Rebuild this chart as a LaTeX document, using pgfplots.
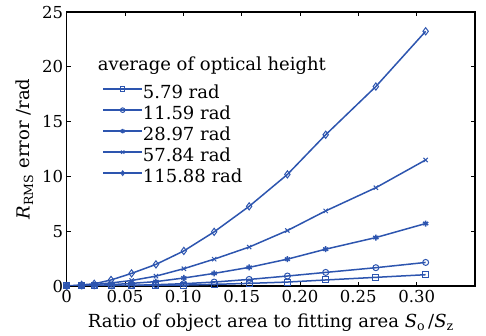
\documentclass[border=0pt]{standalone}
\usepackage{fontspec}
\setmainfont{DejaVu Serif}
\usepackage{pgfplots}
\pgfplotsset{compat=1.18}
\definecolor{lb}{RGB}{45,85,175}
\newcommand{\fs}{\fontsize{16.5}{20}\selectfont}
\newcommand{\fl}{\fontsize{18}{21}\selectfont}
\begin{document}
\begin{tikzpicture}[x=1pt,y=1pt]
\useasboundingbox (0,0) rectangle (486,336);
\begin{axis}[
  at={(66.7pt,50pt)}, anchor=south west,
  scale only axis, width=408.3pt, height=274pt,
  xmin=0, xmax=0.35, ymin=0, ymax=25,
  xtick={0,0.05,0.10,0.15,0.20,0.25,0.30},
  xticklabels={0,0.05,0.10,0.15,0.20,0.25,0.30},
  ytick={0,5,10,15,20,25},
  /pgf/number format/assume math mode=true,
  tick align=inside, major tick length=4pt,
  axis line style={line width=1.4pt},
  tick style={line width=1pt, black},
  ticklabel style={font=\fs},
  xticklabel style={yshift=-1pt},
  label style={font=\fl},
  xlabel={Ratio of object area to fitting area \textit{S}\textsubscript{o}\,/\textit{S}\textsubscript{z}},
  ylabel={\textit{R}\textsubscript{RMS} error /rad},
  xlabel style={yshift=-4pt},
  ylabel style={yshift=2pt},
  legend style={draw=none, fill=none, at={(0.087,0.835)}, anchor=north west,
    font=\fl, row sep=3.5pt, inner sep=0pt,
    nodes={inner sep=0pt, text height=13.5pt, text depth=4pt}},
  legend cell align=left,
  legend image code/.code={\draw[mark repeat=2,mark phase=2, mark size=2.3pt] plot coordinates {(0pt,5pt)(19.5pt,5pt)(39pt,5pt)};},
  every axis plot/.append style={color=lb, line width=1.5pt, mark size=3pt, mark options={solid, line width=1pt}},
]
\addlegendimage{empty legend}
\addlegendentry[text depth=11pt]{\hspace{-45pt}average of optical height}
\addplot[color=lb, mark=square] coordinates {
(0,0) (0.0128,0.01) (0.0236,0.02) (0.038,0.03) (0.0556,0.04) (0.0765,0.06) (0.1004,0.08) (0.1264,0.15) (0.1564,0.24) (0.1892,0.36) (0.222,0.55) (0.265,0.79) (0.3077,1.03)};
\addlegendentry{5.79 rad}
\addplot[color=lb, mark=o] coordinates {
(0,0) (0.0128,0.01) (0.0236,0.02) (0.038,0.04) (0.0556,0.06) (0.0765,0.12) (0.1004,0.21) (0.1264,0.36) (0.1564,0.6) (0.1892,0.91) (0.222,1.24) (0.265,1.67) (0.3077,2.15)};
\addlegendentry{11.59 rad}
\addplot[color=lb, mark=asterisk, mark options={solid, line width=1.5pt}] coordinates {
(0,0) (0.0128,0.02) (0.0236,0.05) (0.038,0.12) (0.0556,0.24) (0.0765,0.4) (0.1004,0.73) (0.1264,1.15) (0.1564,1.7) (0.1892,2.45) (0.222,3.36) (0.265,4.42) (0.3077,5.7)};
\addlegendentry{28.97 rad}
\addplot[color=lb, mark=x] coordinates {
(0,0) (0.0128,0.05) (0.0236,0.13) (0.038,0.28) (0.0556,0.5) (0.0765,0.9) (0.1004,1.58) (0.1264,2.45) (0.1564,3.55) (0.1892,5.06) (0.222,6.85) (0.265,8.97) (0.3077,11.5)};
\addlegendentry{57.84 rad}
\addplot[color=lb, mark=diamond, mark size=3.6pt] coordinates {
(0,0) (0.0128,0.1) (0.0236,0.2) (0.038,0.55) (0.0556,1.15) (0.0765,1.97) (0.1004,3.2) (0.1264,4.94) (0.1564,7.27) (0.1892,10.18) (0.222,13.8) (0.265,18.2) (0.3077,23.24)};
\addlegendentry{115.88 rad}
\end{axis}
\end{tikzpicture}
\end{document}
